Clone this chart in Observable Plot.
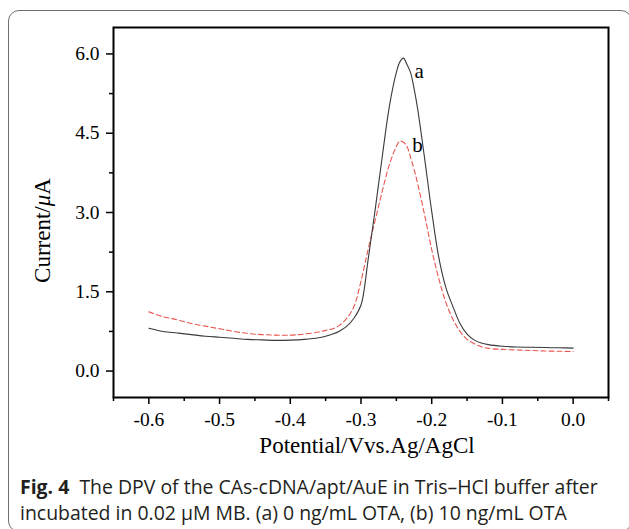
<!DOCTYPE html>
<html><head><meta charset="utf-8">
<script src="https://cdn.jsdelivr.net/npm/d3@7"></script>
<script src="https://cdn.jsdelivr.net/npm/@observablehq/plot@0.6"></script>
<style>
body{margin:0;background:#fff;width:629px;height:529px;overflow:hidden;position:relative;}
#box{position:absolute;left:8px;top:10px;width:624px;height:522px;border:1.5px solid #6d6e70;border-radius:11px;box-sizing:border-box;}
#chart{position:absolute;left:0;top:0;}
#cap{position:absolute;left:20px;top:474px;font-family:"Open Sans",sans-serif;font-size:16px;line-height:26px;color:#231f20;white-space:nowrap;}
#cap b{font-weight:700;}
</style>
</head><body>
<div id="box"></div>
<div id="chart"></div>
<div id="cap"><span id="l1"><b>Fig. 4</b>&nbsp; The DPV of the CAs-cDNA/apt/AuE in Tris–HCl buffer after</span><br>incubated in 0.02 μM MB. (a) 0 ng/mL OTA, (b) 10 ng/mL OTA</div>
<script>
const potential = [-0.60,-0.58,-0.56,-0.54,-0.52,-0.50,-0.48,-0.46,-0.44,-0.42,-0.40,-0.38,-0.36,-0.35,-0.34,-0.33,-0.32,-0.31,-0.30,-0.29,-0.28,-0.27,-0.26,-0.25,-0.245,-0.24,-0.235,-0.23,-0.225,-0.22,-0.21,-0.20,-0.19,-0.18,-0.17,-0.16,-0.15,-0.14,-0.13,-0.12,-0.10,-0.08,-0.06,-0.04,-0.02,0.00];
const currentA = [0.81,0.75,0.72,0.69,0.66,0.64,0.62,0.60,0.59,0.58,0.585,0.60,0.63,0.66,0.70,0.76,0.85,1.00,1.25,2.10,3.05,4.05,5.00,5.65,5.85,5.92,5.80,5.65,5.35,4.97,4.02,3.02,2.15,1.58,1.22,0.90,0.70,0.59,0.53,0.50,0.47,0.455,0.45,0.445,0.44,0.435];
const currentB = [1.12,1.03,0.97,0.90,0.85,0.80,0.75,0.71,0.69,0.68,0.68,0.70,0.74,0.77,0.80,0.87,1.00,1.22,1.70,2.30,2.85,3.40,3.90,4.25,4.35,4.33,4.25,4.05,3.82,3.55,2.95,2.30,1.75,1.30,0.98,0.75,0.60,0.52,0.46,0.43,0.41,0.40,0.39,0.38,0.375,0.37];
const xTicks = [-0.6,-0.5,-0.4,-0.3,-0.2,-0.1,0.0];
const xMinor = [-0.65,-0.55,-0.45,-0.35,-0.25,-0.15,-0.05,0.05];
const yTicks = [0.0,1.5,3.0,4.5,6.0];
const yMinor = [0.75,2.25,3.75,5.25];
const labels = ["a","b"];
const labelX = [-0.2244,-0.2276];
const labelY = [5.67,4.28];

const rowsA = potential.map((p,i)=>({p, c: currentA[i]}));
const rowsB = potential.map((p,i)=>({p, c: currentB[i]}));
const rowsL = labels.map((t,i)=>({t, x: labelX[i], y: labelY[i]}));
const fmt = d => d.toFixed(1);

const chart = Plot.plot({
  width: 629, height: 470,
  marginLeft: 113, marginRight: 21, marginTop: 27, marginBottom: 73,
  style: {fontFamily: "'Liberation Serif', serif", fontSize: "19.5px", color: "#000", background: "transparent", overflow: "visible"},
  x: {domain: [-0.65, 0.05]},
  y: {domain: [-0.5, 6.5]},
  marks: [
    Plot.axisX({ticks: xMinor, tickSize: 4, tickFormat: () => "", label: null, strokeWidth: 1.5}),
    Plot.axisX({ticks: xTicks, tickSize: 7, tickPadding: 8, tickFormat: fmt, label: null, strokeWidth: 1.5, fontSize: 19.5}),
    Plot.axisY({ticks: yMinor, tickSize: 4, tickFormat: () => "", label: null, strokeWidth: 1.5}),
    Plot.axisY({ticks: yTicks, tickSize: 7, tickPadding: 7, tickFormat: fmt, label: null, strokeWidth: 1.5, fontSize: 19.5}),
    Plot.line(rowsB, {x: "p", y: "c", curve: "catmull-rom", stroke: "#e8574f", strokeWidth: 1.1, strokeDasharray: "5,3"}),
    Plot.line(rowsA, {x: "p", y: "c", curve: "catmull-rom", stroke: "#3a3a3a", strokeWidth: 1.1}),
    Plot.text(rowsL, {x: "x", y: "y", text: "t", textAnchor: "start", fontSize: 21, fill: "#000"}),
    Plot.text(["Potential/Vvs.Ag/AgCl"], {frameAnchor: "bottom", dy: 55, dx: 6, fontSize: 23, fill: "#000"}),
    Plot.frame({stroke: "#000", strokeWidth: 2})
  ]
});
document.getElementById("chart").appendChild(chart);
const svg = d3.select(chart);
const yl = svg.append("text")
  .attr("transform", "translate(45,230.5) rotate(-90)")
  .attr("text-anchor", "middle")
  .attr("dominant-baseline", "middle")
  .style("font-family", "'Liberation Serif', serif")
  .style("font-size", "23px")
  .attr("fill", "#000");
yl.append("tspan").text("Current/");
yl.append("tspan").style("font-style", "italic").text("μ");
yl.append("tspan").text("A");

function fitCaption(){
  const cap = document.getElementById("cap");
  const l1 = document.getElementById("l1");
  cap.style.fontSize = "16px";
  const w = l1.getBoundingClientRect().width;
  if (w > 0) cap.style.fontSize = (16 * 578 / w).toFixed(2) + "px";
}
fitCaption();
if (document.fonts && document.fonts.ready) document.fonts.ready.then(fitCaption);
</script>
</body></html>
